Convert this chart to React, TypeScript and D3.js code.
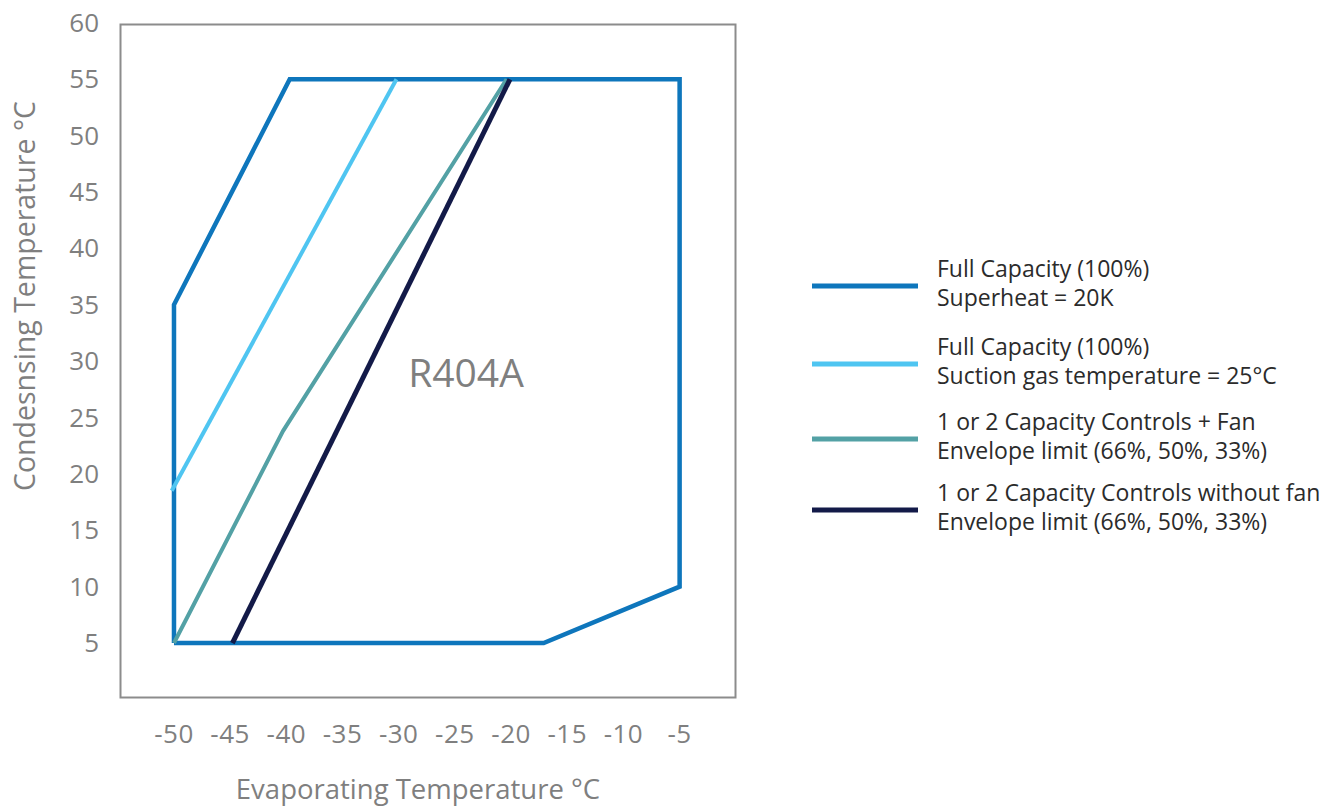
import React from "react";
import * as d3 from "d3";

type Pt = [number, number];

const xTicks = [-50, -45, -40, -35, -30, -25, -20, -15, -10, -5];
const yTicks = [5, 10, 15, 20, 25, 30, 35, 40, 45, 50, 55, 60];

const fullCapacitySH20: Pt[] = [
  [-50, 5], [-50, 35], [-39.7, 55], [-5, 55], [-5, 10], [-17.1, 5], [-50, 5],
];
const fullCapacitySuction25: Pt[] = [[-50.2, 18.5], [-30.2, 55]];
const capControlsFan: Pt[] = [[-50, 5], [-40.3, 23.8], [-20.4, 55]];
const capControlsNoFan: Pt[] = [[-44.8, 5], [-20.1, 55]];

const seriesNames = [
  ["Full Capacity (100%)", "Superheat = 20K"],
  ["Full Capacity (100%)", "Suction gas temperature = 25°C"],
  ["1 or 2 Capacity Controls + Fan", "Envelope limit (66%, 50%, 33%)"],
  ["1 or 2 Capacity Controls without fan", "Envelope limit (66%, 50%, 33%)"],
];
const seriesColors = ["#0e76bc", "#4fc5f1", "#53a1a5", "#131a48"];
const seriesWidths = [4.5, 4, 4, 5];
const seriesData = [fullCapacitySH20, fullCapacitySuction25, capControlsFan, capControlsNoFan];

const font = "'Open Sans', 'Noto Sans', sans-serif";

export default function App() {
  const x = d3.scaleLinear().domain([-55, 0]).range([117.8, 735.8]);
  const y = d3.scaleLinear().domain([0, 60]).range([699.4, 22.9]);
  const line = d3.line<Pt>().x((d) => x(d[0])).y((d) => y(d[1])).curve(d3.curveLinear);

  const legendY = [286, 364, 439, 510];

  return (
    <svg
      width={1335}
      height={807}
      style={{ position: "absolute", left: 0, top: 0, background: "#fff" }}
      fontFamily={font}
    >
      <rect x={120.5} y={24.5} width={615} height={673} fill="none" stroke="#8c8c8c" strokeWidth={2} />

      {yTicks.map((t) => (
        <text key={"y" + t} x={99} y={y(t) + 9} textAnchor="end" fontSize={26} fill="#7f7f7f">
          {t}
        </text>
      ))}
      {xTicks.map((t) => (
        <text key={"x" + t} x={x(t)} y={742.5} textAnchor="middle" fontSize={26} fill="#7f7f7f" letterSpacing={0.5}>
          {t}
        </text>
      ))}

      <text x={418} y={799} textAnchor="middle" fontSize={27.5} fill="#7f7f7f">
        Evaporating Temperature °C
      </text>
      <text
        transform={`translate(35,296) rotate(-90)`}
        textAnchor="middle"
        fontSize={28.5}
        fill="#7f7f7f"
      >
        Condesnsing Temperature °C
      </text>

      <text x={466} y={387} textAnchor="middle" fontSize={39} fill="#7f7f7f">
        R404A
      </text>

      {seriesData.map((d, i) => (
        <path
          key={"s" + i}
          d={line(d) || ""}
          fill="none"
          stroke={seriesColors[i]}
          strokeWidth={seriesWidths[i]}
          strokeLinejoin="miter"
        />
      ))}

      {seriesNames.map((lines, i) => (
        <g key={"l" + i}>
          <line x1={812} x2={918} y1={legendY[i]} y2={legendY[i]} stroke={seriesColors[i]} strokeWidth={5} />
          <text x={937} y={legendY[i] - 9} fontSize={23} fill="#2b2b2b">
            {lines[0]}
          </text>
          <text x={937} y={legendY[i] + 20} fontSize={23} fill="#2b2b2b">
            {lines[1]}
          </text>
        </g>
      ))}
    </svg>
  );
}
